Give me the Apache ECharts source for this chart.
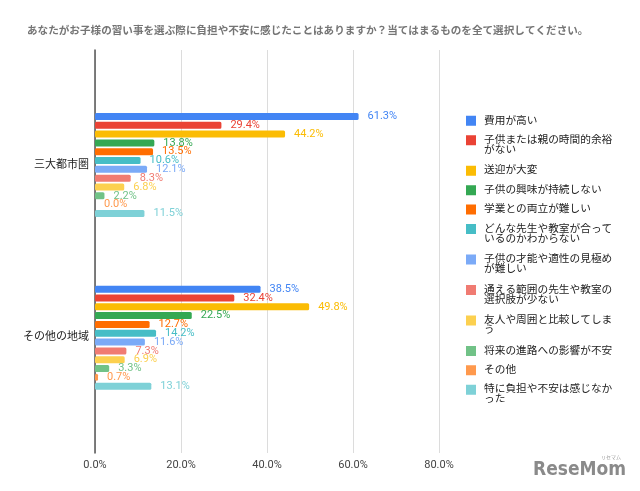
<!DOCTYPE html>
<html>
<head>
<meta charset="utf-8">
<script src="https://cdn.jsdelivr.net/npm/echarts@6/dist/echarts.min.js"></script>
<style>html,body{margin:0;padding:0;background:#fff;}#main{width:640px;height:491px;}</style>
</head>
<body>
<div id="main"></div>
<script>
const title = 'あなたがお子様の習い事を選ぶ際に負担や不安に感じたことはありますか？当てはまるものを全て選択してください。';
const categories = ['三大都市圏', 'その他の地域'];
const seriesNames = [
  '費用が高い',
  '子供または親の時間的余裕がない',
  '送迎が大変',
  '子供の興味が持続しない',
  '学業との両立が難しい',
  'どんな先生や教室が合っているのかわからない',
  '子供の才能や適性の見極めが難しい',
  '通える範囲の先生や教室の選択肢が少ない',
  '友人や周囲と比較してしまう',
  '将来の進路への影響が不安',
  'その他',
  '特に負担や不安は感じなかった'
];
const legendLabels = [
  '費用が高い',
  '子供または親の時間的余裕\nがない',
  '送迎が大変',
  '子供の興味が持続しない',
  '学業との両立が難しい',
  'どんな先生や教室が合って\nいるのかわからない',
  '子供の才能や適性の見極め\nが難しい',
  '通える範囲の先生や教室の\n選択肢が少ない',
  '友人や周囲と比較してしま\nう',
  '将来の進路への影響が不安',
  'その他',
  '特に負担や不安は感じなか\nった'
];
const metroValues = [61.3, 29.4, 44.2, 13.8, 13.5, 10.6, 12.1, 8.3, 6.8, 2.2, 0.0, 11.5];
const otherValues = [38.5, 32.4, 49.8, 22.5, 12.7, 14.2, 11.6, 7.3, 6.9, 3.3, 0.7, 13.1];
const xTicks = [0, 20, 40, 60, 80];
const colors = ['#4285F4', '#EA4335', '#FBBC04', '#34A853', '#FF6D01', '#46BDC6',
                '#7BAAF7', '#F07B72', '#FCD04F', '#71C287', '#FF994D', '#7ED1D7'];

const FONT = 'Roboto, "Noto Sans CJK JP", sans-serif';
const chart = echarts.init(document.getElementById('main'));

const series = seriesNames.map((name, i) => ({
  name: name,
  type: 'bar',
  xAxisIndex: 0,
  yAxisIndex: 0,
  data: [metroValues[i], otherValues[i]],
  barWidth: 7,
  barGap: '26%',
  itemStyle: { color: colors[i], borderRadius: 1.5 },
  label: {
    show: true,
    position: 'right',
    distance: 9,
    color: colors[i],
    fontSize: 11,
    fontFamily: FONT,
    formatter: p => p.value.toFixed(1) + '%'
  },
  emphasis: { disabled: true },
  animation: false
}));

// legend: one component per item so the swatch lines up with the first text line
const LINE = 10;
const ICON_1 = 'path://M0,0H10V10H0Z M12.99,9.99H13V10H12.99Z';
const ICON_2 = 'path://M0,0H10V10H0Z M12.99,19.99H13V20H12.99Z';
const legends = [];
let center = 120.5;
seriesNames.forEach((name, i) => {
  const lines = legendLabels[i].split('\n').length;
  const twoLine = lines > 1;
  legends.push({
    orient: 'vertical',
    left: 466,
    top: center - LINE / 2,
    padding: 0,
    itemWidth: 13,
    itemHeight: twoLine ? 2 * LINE : LINE,
    icon: twoLine ? ICON_2 : ICON_1,
    data: [name],
    formatter: () => legendLabels[i],
    textStyle: { fontSize: 10.7, lineHeight: LINE, color: '#222', fontFamily: FONT },
    selectedMode: false
  });
  center += twoLine ? 30.5 : 19.4;
});

const option = {
  animation: false,
  color: colors,
  textStyle: { fontFamily: FONT },
  title: {
    text: title,
    left: 22,
    top: 21,
    textStyle: { fontSize: 10.6, fontWeight: 'bold', color: '#757575', fontFamily: FONT }
  },
  legend: legends,
  grid: [
    { left: 95, right: 201, top: 78.6, height: 345.4 },
    { left: 95, right: 201, top: 50, bottom: 38 }
  ],
  xAxis: [
    { gridIndex: 0, type: 'value', min: 0, max: 80, show: false },
    {
      gridIndex: 1, type: 'value', min: xTicks[0], max: xTicks[xTicks.length - 1], interval: 20,
      axisLine: { show: false }, axisTick: { show: false },
      splitLine: { show: true, lineStyle: { color: '#dcdcdc', width: 1 } },
      axisLabel: { margin: 7, fontSize: 11, color: '#444', fontFamily: FONT, formatter: v => v.toFixed(1) + '%' }
    }
  ],
  yAxis: [
    {
      gridIndex: 0, type: 'category', data: categories, inverse: true,
      axisLine: { show: false }, axisTick: { show: false }, splitLine: { show: false },
      axisLabel: { margin: 6, fontSize: 11, color: '#222', fontFamily: FONT }
    },
    {
      gridIndex: 1, type: 'category', data: [''],
      axisLine: { show: true, lineStyle: { color: '#555', width: 1.5 } },
      axisTick: { show: false }, axisLabel: { show: false }, splitLine: { show: false }
    }
  ],
  graphic: [
    { type: 'text', left: 533, top: 461, style: { text: 'ReseMom', font: 'bold 19px "DejaVu Sans Condensed", "Liberation Sans Narrow", sans-serif', fill: '#8a8a8a' } },
    { type: 'text', left: 601, top: 455, style: { text: 'リセマム', font: '5px "Noto Sans CJK JP"', fill: '#999' } }
  ],
  series: series
};
chart.setOption(option);
</script>
</body>
</html>
